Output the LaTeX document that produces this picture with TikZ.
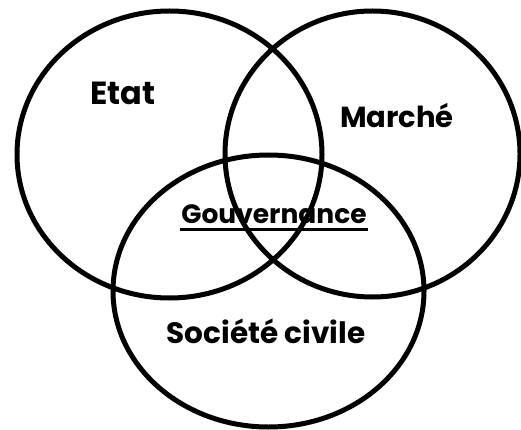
\documentclass[tikz,border=0pt]{standalone}
\usepackage{fontspec}
\setmainfont{Poppins}
\usetikzlibrary{shapes.geometric,calc}
\begin{document}
\begin{tikzpicture}[x=1pt,y=-1pt,
  venn/.style={draw=black,line width=5pt,ellipse,inner sep=0pt},
  lbl/.style={anchor=base,inner sep=0pt}]
\useasboundingbox (0,0) rectangle (521,430);
\node[venn,minimum width=305pt,minimum height=287pt] (etat) at (169.5,154.5) {};
\node[venn,minimum width=295pt,minimum height=286pt] (marche) at (372.5,154) {};
\node[venn,minimum width=311pt,minimum height=272pt] (societe) at (268.5,291) {};
\node[lbl,font=\fontsize{32}{36}\selectfont\bfseries] (tetat) at (123,105) {Etat};
\node[lbl,font=\fontsize{29}{34}\selectfont\bfseries] (tmarche) at (397,128) {Marché};
\node[lbl,font=\fontsize{26.5}{32}\selectfont\bfseries] (tgov) at (274,223) {Gouvernance};
\node[lbl,font=\fontsize{29.5}{34}\selectfont\bfseries] (tsoc) at (266,343) {Société civile};
\draw[line width=3pt] ($(tgov.base west)+(-1,6)$) -- ($(tgov.base east)+(1,6)$);
\end{tikzpicture}
\end{document}
